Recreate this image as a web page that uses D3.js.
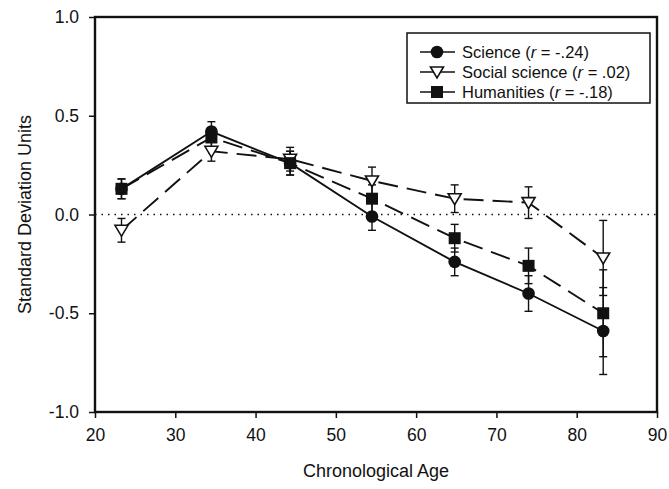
<!DOCTYPE html>
<html lang="en">
<head>
  <meta charset="UTF-8">
  <title>Standard Deviation Units by Age</title>
  <script src="https://d3js.org/d3.v7.min.js"></script>
  <style>
    html, body { margin: 0; padding: 0; background: #fff; }
    svg text { font-family: "Liberation Sans", Arial, sans-serif; fill: #111; }
    .axis-title { font-size: 18px; }
    .legend text { font-size: 16.5px; }
  </style>
</head>
<body>
  <div id="chart"></div>
  <script>
    const width = 669;
    const height = 489;
    const margin = {top: 17, right: 12, bottom: 77, left: 95};

    // data
    const ages = [23.3, 34.5, 44.3, 54.5, 64.8, 74.0, 83.3];
    const science =      [0.13, 0.42, 0.26, -0.01, -0.24, -0.40, -0.59];
    const scienceErr =   [0.05, 0.05, 0.06, 0.07, 0.07, 0.09, 0.22];
    const social =       [-0.08, 0.32, 0.28, 0.17, 0.08, 0.06, -0.22];
    const socialErr =    [0.06, 0.05, 0.06, 0.07, 0.07, 0.08, 0.19];
    const humanities =   [0.13, 0.39, 0.26, 0.08, -0.12, -0.26, -0.50];
    const humanitiesErr =[0.05, 0.05, 0.06, 0.07, 0.07, 0.09, 0.22];
    const xTicks = [20, 30, 40, 50, 60, 70, 80, 90];
    const yTicks = [-1.0, -0.5, 0.0, 0.5, 1.0];

    const series = [
      {name: 'Science', r: '-.24', values: science, err: scienceErr, marker: 'circle', dash: null},
      {name: 'Social science', r: '.02', values: social, err: socialErr, marker: 'triangle', dash: '20,9'},
      {name: 'Humanities', r: '-.18', values: humanities, err: humanitiesErr, marker: 'square', dash: '20,9'}
    ];

    const svg = d3.select('#chart').append('svg')
      .attr('width', width).attr('height', height);

    const x = d3.scaleLinear().domain([20, 90]).range([margin.left, width - margin.right]);
    const y = d3.scaleLinear().domain([-1, 1]).range([height - margin.bottom, margin.top]);

    // zero reference line
    svg.append('line')
      .attr('x1', x(20)).attr('x2', x(90))
      .attr('y1', y(0)).attr('y2', y(0))
      .attr('stroke', '#111').attr('stroke-width', 1.6)
      .attr('stroke-dasharray', '1.5,5');

    // axes (plain hyphen for negatives, like the original)
    const yFmt = d => d3.format('.1f')(d).replace('\u2212', '-');
    const xAxis = svg.append('g')
      .attr('transform', `translate(0,${y(-1)})`)
      .call(d3.axisBottom(x).tickValues(xTicks).tickSize(6).tickPadding(11).tickFormat(d3.format('d')));
    const yAxis = svg.append('g')
      .attr('transform', `translate(${x(20)},0)`)
      .call(d3.axisLeft(y).tickValues(yTicks).tickSize(6).tickPadding(10).tickFormat(yFmt));
    [xAxis, yAxis].forEach(g => {
      g.attr('font-size', null).attr('font-family', null);
      g.select('.domain').remove();
      g.selectAll('line').attr('stroke', '#111').attr('stroke-width', 1.5);
      g.selectAll('text').style('font-size', '17.5px').attr('fill', '#111');
    });

    // frame
    svg.append('rect')
      .attr('x', x(20)).attr('y', y(1))
      .attr('width', x(90) - x(20)).attr('height', y(-1) - y(1))
      .attr('fill', 'none').attr('stroke', '#111').attr('stroke-width', 2.4);

    // axis titles
    svg.append('text').attr('class', 'axis-title')
      .attr('x', (x(20) + x(90)) / 2).attr('y', 477)
      .attr('text-anchor', 'middle').text('Chronological Age');
    svg.append('text').attr('class', 'axis-title')
      .attr('transform', `translate(31,${y(0)}) rotate(-90)`)
      .attr('text-anchor', 'middle').text('Standard Deviation Units');

    const line = d3.line().x((d, i) => x(ages[i])).y(d => y(d));

    function drawMarker(g, type, cx, cy) {
      if (type === 'circle') {
        g.append('circle').attr('cx', cx).attr('cy', cy).attr('r', 6.3).attr('fill', '#111');
      } else if (type === 'square') {
        g.append('rect').attr('x', cx - 6).attr('y', cy - 6)
          .attr('width', 12).attr('height', 12).attr('fill', '#111');
      } else {
        g.append('path')
          .attr('d', `M${cx - 6.5},${cy - 5} L${cx + 6.5},${cy - 5} L${cx},${cy + 6} Z`)
          .attr('fill', '#fff').attr('stroke', '#111').attr('stroke-width', 1.6);
      }
    }

    // error bars
    series.forEach(s => {
      const g = svg.append('g');
      s.values.forEach((v, i) => {
        const cx = x(ages[i]);
        g.append('line').attr('x1', cx).attr('x2', cx)
          .attr('y1', y(v + s.err[i])).attr('y2', y(v - s.err[i]))
          .attr('stroke', '#111').attr('stroke-width', 1.4);
        [v + s.err[i], v - s.err[i]].forEach(e => {
          g.append('line').attr('x1', cx - 4).attr('x2', cx + 4)
            .attr('y1', y(e)).attr('y2', y(e))
            .attr('stroke', '#111').attr('stroke-width', 1.4);
        });
      });
    });

    // lines and markers
    series.forEach(s => {
      svg.append('path').datum(s.values).attr('d', line)
        .attr('fill', 'none').attr('stroke', '#111').attr('stroke-width', 1.9)
        .attr('stroke-dasharray', s.dash);
    });
    series.forEach(s => {
      const g = svg.append('g');
      s.values.forEach((v, i) => drawMarker(g, s.marker, x(ages[i]), y(v)));
    });

    // legend
    const legend = svg.append('g').attr('class', 'legend');
    legend.append('rect')
      .attr('x', 407).attr('y', 33).attr('width', 243).attr('height', 70)
      .attr('fill', '#fff').attr('stroke', '#111').attr('stroke-width', 1.5);
    series.forEach((s, i) => {
      const ly = 52 + i * 20;
      legend.append('line').attr('x1', 420).attr('x2', 455)
        .attr('y1', ly).attr('y2', ly)
        .attr('stroke', '#111').attr('stroke-width', 1.6);
      drawMarker(legend, s.marker, 437, ly);
      const t = legend.append('text').attr('x', 462).attr('y', ly + 5.5);
      t.append('tspan').text(s.name + ' (');
      t.append('tspan').attr('font-style', 'italic').text('r');
      t.append('tspan').text(' = ' + s.r + ')');
    });
  </script>
</body>
</html>
